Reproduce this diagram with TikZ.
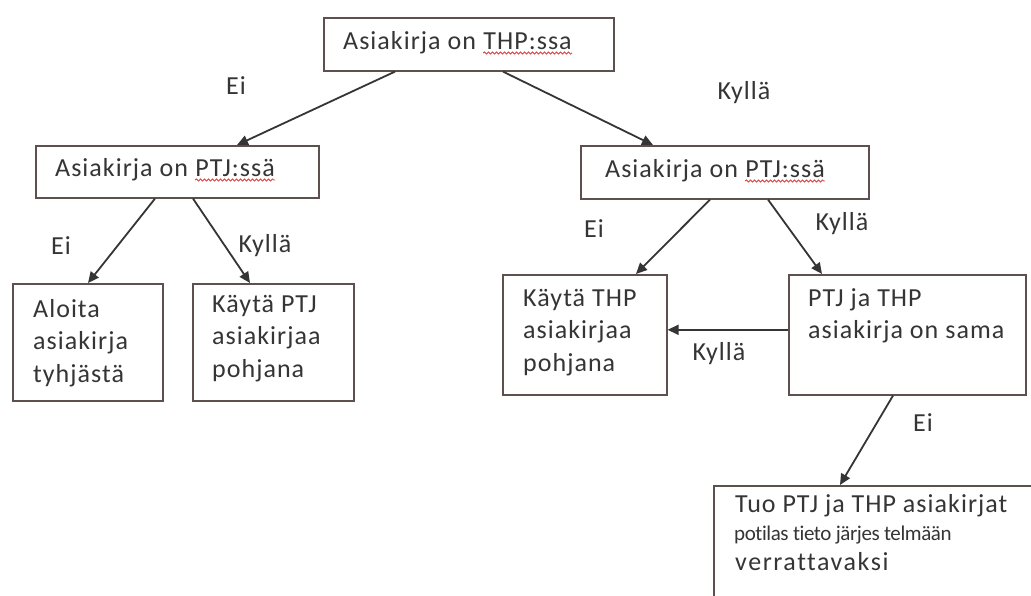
\documentclass[tikz,border=0pt]{standalone}
\usepackage{fontspec}
\setmainfont[LetterSpace=4,Ligatures=NoCommon]{Carlito}
\usetikzlibrary{arrows.meta,decorations.pathmorphing}
\definecolor{ink}{HTML}{353535}
\definecolor{frame}{HTML}{5E504E}
\definecolor{spell}{HTML}{D83A3A}
\begin{document}
\begin{tikzpicture}[x=1pt,y=-1pt,
  box/.style={draw=frame,line width=1.6pt,rectangle,inner sep=0pt,anchor=north west,fill=white},
  txt/.style={text=ink,inner sep=0pt,anchor=base west,font=\fontsize{26}{32.5}\selectfont,align=left},
  lbl/.style={text=ink,inner sep=0pt,font=\fontsize{26}{32.5}\selectfont},
  arr/.style={draw=ink,line width=1.8pt,-{Triangle[length=11pt,width=10pt]}},
  wavy/.style={draw=spell,line width=0.8pt,decorate,decoration={snake,amplitude=1.1pt,segment length=4pt}}]
\useasboundingbox (0,0) rectangle (1031,595);
\fill[white] (0,0) rectangle (1031,595);

% decision boxes
\node[box,minimum width=290pt,minimum height=53pt] (top) at (323,17) {};
\node[box,minimum width=283pt,minimum height=52pt] (ptjL) at (35,145) {};
\node[box,minimum width=288pt,minimum height=53pt] (ptjR) at (580,145) {};
\node[box,minimum width=150pt,minimum height=117pt] (aloita) at (12,283) {};
\node[box,minimum width=161pt,minimum height=117pt] (kaytaPTJ) at (192,283) {};
\node[box,minimum width=164pt,minimum height=120pt] (kaytaTHP) at (502,274) {};
\node[box,minimum width=237pt,minimum height=120pt] (sama) at (788,274) {};
\begin{scope}
\clip (0,0) rectangle (1031,595);
\node[box,minimum width=340pt,minimum height=140pt] (tuo) at (713,485) {};
\end{scope}

% box texts (multi-line nodes are placed by the baseline of their last line)
\node[txt] (topA) at (343,49) {Asiakirja on};
\node[txt] (topB) at ([xshift=7pt]topA.base east) {THP:ssa};
\draw[wavy] ([yshift=-4pt]topB.base west) -- ([yshift=-4pt]topB.base east);

\node[txt] (ptjLA) at (55,176) {Asiakirja on};
\node[txt] (ptjLB) at ([xshift=7pt]ptjLA.base east) {PTJ:ssä};
\draw[wavy] ([yshift=-4pt]ptjLB.base west) -- ([yshift=-4pt]ptjLB.base east);

\node[txt] (ptjRA) at (605,177) {Asiakirja on};
\node[txt] (ptjRB) at ([xshift=7pt]ptjRA.base east) {PTJ:ssä};
\draw[wavy] ([yshift=-4pt]ptjRB.base west) -- ([yshift=-4pt]ptjRB.base east);

\node[txt] (aloitaT) at (33,382) {Aloita\\asiakirja\\tyhjästä};
\node[txt] (kaytaPTJT) at (212,377) {Käytä PTJ\\asiakirjaa\\pohjana};
\node[txt] (kaytaTHPT) at (523,371) {Käytä THP\\asiakirjaa\\pohjana};
\node[txt] (samaT) at (808,338.5) {PTJ ja THP\\asiakirja on sama};
\node[txt] (tuoT1) at (735,512) {Tuo PTJ ja THP asiakirjat};
\node[txt,font=\fontsize{21}{24}\selectfont\addfontfeature{LetterSpace=-2}] (tuoT2) at (734,540) {potilas tieto järjes telmään};
\node[txt,font=\fontsize{26}{32}\selectfont\addfontfeature{LetterSpace=6}] (tuoT3) at (735,570) {verrattavaksi};

% connectors
\draw[arr] ([xshift=72pt]top.south west) -- ([xshift=202pt]ptjL.north west);
\draw[arr] ([xshift=180pt]top.south west) -- ([xshift=73pt]ptjR.north west);
\draw[arr] ([xshift=120pt]ptjL.south west) -- ([xshift=76pt]aloita.north west);
\draw[arr] ([xshift=158pt]ptjL.south west) -- ([xshift=58pt]kaytaPTJ.north west);
\draw[arr] ([xshift=130pt]ptjR.south west) -- ([xshift=134pt]kaytaTHP.north west);
\draw[arr] ([xshift=188pt]ptjR.south west) -- ([xshift=34pt]sama.north west);
\draw[arr] ([yshift=5pt]sama.west) -- ([yshift=5pt]kaytaTHP.east);
\draw[arr] ([xshift=105pt]sama.south west) -- ([xshift=127pt]tuo.north west);

% branch labels
\node[lbl] (ei1) at (236,86) {Ei};
\node[lbl] (kylla1) at (744,93) {Kyllä};
\node[lbl] (ei2) at (61,246) {Ei};
\node[lbl] (kylla2) at (265,246) {Kyllä};
\node[lbl] (ei3) at (594,229) {Ei};
\node[lbl] (kylla3) at (842,224) {Kyllä};
\node[lbl] (kylla4) at (719,354) {Kyllä};
\node[lbl] (ei4) at (923,423) {Ei};
\end{tikzpicture}
\end{document}
